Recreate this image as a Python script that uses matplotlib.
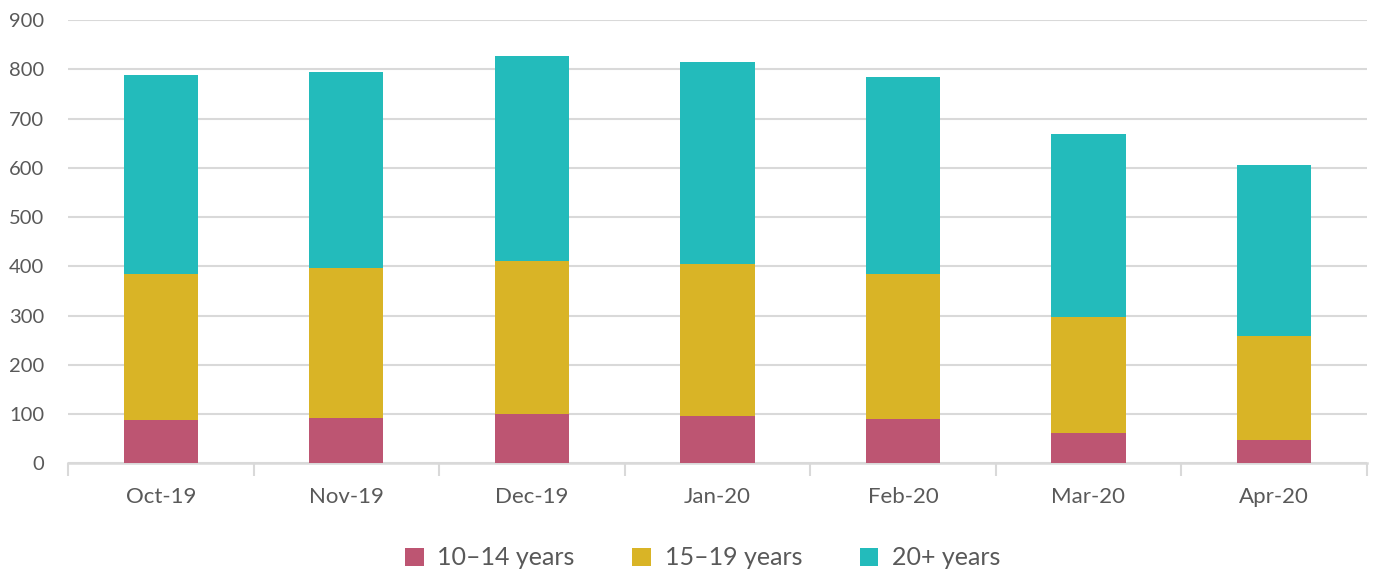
import matplotlib.pyplot as plt
import numpy as np

# monthly counts by age group
months = ['Oct-19', 'Nov-19', 'Dec-19', 'Jan-20', 'Feb-20', 'Mar-20', 'Apr-20']
age_10_14 = [87, 91, 99, 95, 89, 62, 48]
age_15_19 = [297, 306, 311, 309, 295, 234, 211]
age_20_plus = [404, 397, 417, 410, 400, 372, 346]

labels = ['10\u201314 years', '15\u201319 years', '20+ years']
colors = ['#bd5572', '#d9b426', '#23bbbb']

plt.rcParams['font.family'] = ['Lato', 'DejaVu Sans']
text_col = '#595959'
grid_col = '#d9d9d9'

fig = plt.figure(figsize=(13.75, 5.74), dpi=100)
ax = fig.add_axes([0.0495, 0.193, 0.9445, 0.772])

x = np.arange(len(months))
w = 0.40
b1 = ax.bar(x, age_10_14, w, color=colors[0], label=labels[0], zorder=3)
bottom2 = np.array(age_10_14)
b2 = ax.bar(x, age_15_19, w, bottom=bottom2, color=colors[1], label=labels[1], zorder=3)
bottom3 = bottom2 + np.array(age_15_19)
b3 = ax.bar(x, age_20_plus, w, bottom=bottom3, color=colors[2], label=labels[2], zorder=3)

ax.set_xlim(-0.5, len(months) - 0.5)
ax.set_ylim(0, 900)
ax.set_yticks(range(0, 901, 100))
ax.yaxis.grid(True, color=grid_col, linewidth=1.5, zorder=0)
ax.set_axisbelow(True)

for s in ['top', 'right', 'left']:
    ax.spines[s].set_visible(False)
ax.spines['bottom'].set_color(grid_col)
ax.spines['bottom'].set_linewidth(1.8)

ax.set_xticks(x)
ax.set_xticklabels(months, fontsize=16, color=text_col)
ax.tick_params(axis='x', length=0, pad=17)
ax.set_xticks(np.arange(-0.5, len(months)), minor=True)
ax.tick_params(axis='x', which='minor', length=9, width=1.5, color=grid_col)
ax.tick_params(axis='y', length=0, pad=17, labelsize=14.5, labelcolor=text_col)

leg = fig.legend(handles=[b1, b2, b3], loc='center', bbox_to_anchor=(0.511, 0.028),
                 ncol=3, frameon=False, fontsize=18, handlelength=0.75, handleheight=0.75,
                 columnspacing=2.3, handletextpad=0.55)
for t in leg.get_texts():
    t.set_color(text_col)

fig.savefig('out.png', dpi=100)
